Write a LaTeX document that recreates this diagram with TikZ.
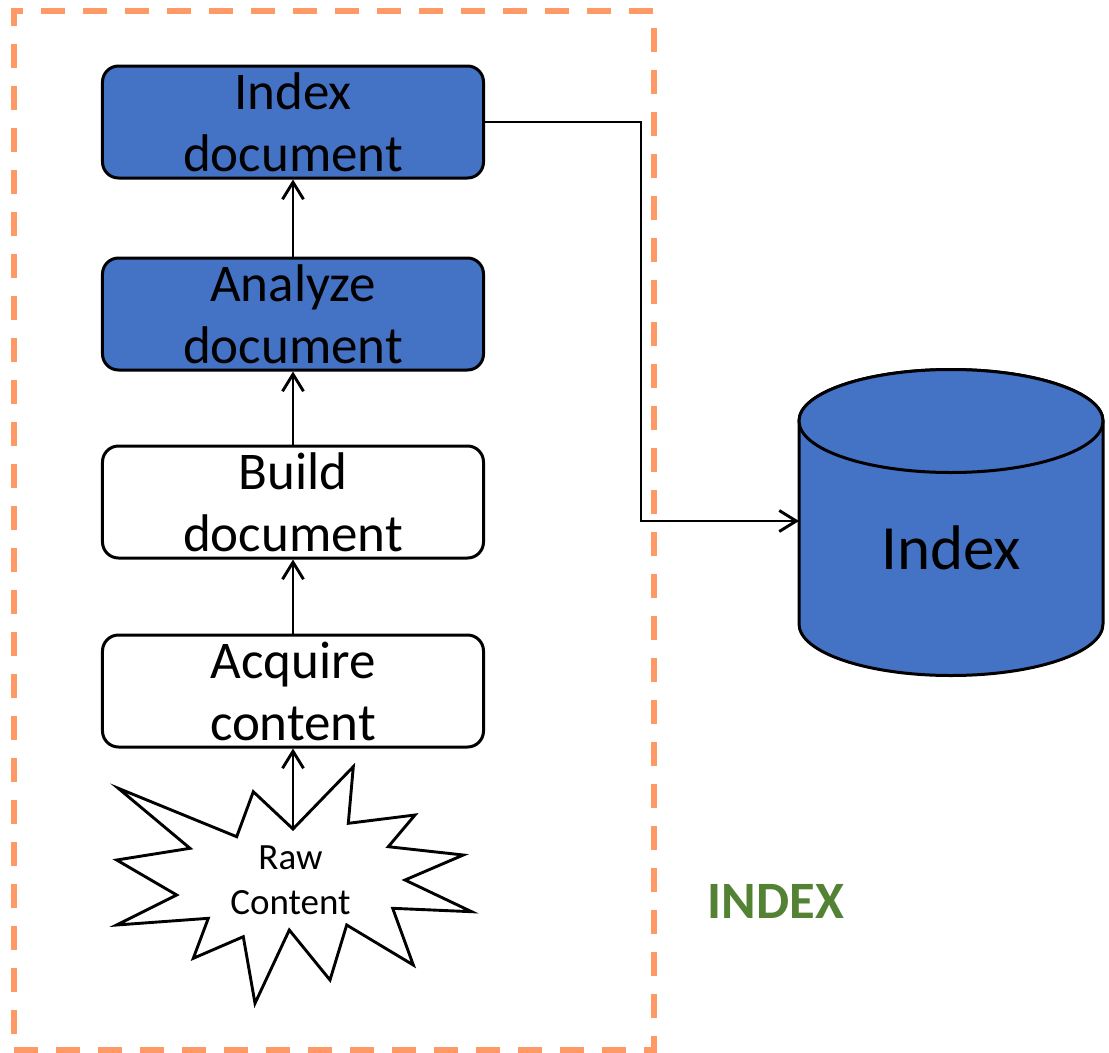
\documentclass[tikz,border=0pt]{standalone}
\usepackage{fontspec}
\setmainfont{Carlito}
\usetikzlibrary{arrows.meta}
\definecolor{boxblue}{HTML}{4472C4}
\definecolor{frameorange}{HTML}{FF9966}
\definecolor{idxgreen}{HTML}{548235}
\tikzset{
  stepbox/.style={draw=black, line width=3bp, rounded corners=16bp,
    minimum width=381bp, minimum height=112bp, align=center, inner sep=0pt,
    font=\fontsize{53bp}{62bp}\selectfont},
  bluebox/.style={stepbox, fill=boxblue},
  whitebox/.style={stepbox, fill=white},
  arr/.style={draw=black, line width=2.9bp,
    -{Straight Barb[length=17bp,width=21bp,line width=2.9bp]}},
  framebox/.style={draw=frameorange, line width=6bp, dash pattern=on 24bp off 18bp,
    minimum width=640bp, minimum height=1039bp, inner sep=0pt},
}
\begin{document}
\begin{tikzpicture}[x=1bp,y=-1bp]
\fill[white] (0,0) rectangle (1109,1053);
\useasboundingbox (0,0) rectangle (1109,1053);

% frame
\node[framebox] (frame) at (334,530.5) {};

% boxes
\node[bluebox] (idx) at (293,122) {Index\\document};
\node[bluebox] (ana) at (293,314) {Analyze\\document};
\node[whitebox] (bld) at (293,502) {Build\\document};
\node[whitebox] (acq) at (293,691) {Acquire\\content};

% starburst
\coordinate (rawtop) at (293,829);
\draw[line width=2.9bp, fill=white]
  (293,829) -- (353.3,766.7) -- (348.3,823.3) -- (415,815) -- (388.3,846.7)
  -- (463.3,855) -- (405,880) -- (471.7,911.7) -- (392.7,908.3) -- (413.3,965)
  -- (346.7,925) -- (330,980) -- (289.3,930) -- (255,1003.3) -- (243.3,936.7)
  -- (193.3,958.3) -- (208.3,918.3) -- (116.7,925) -- (176.7,895) -- (116.7,860)
  -- (190,848.3) -- (118.3,788.3) -- (236.7,836.7) -- (253.3,791.7) -- cycle;
\node[align=center, inner sep=0pt, font=\fontsize{37bp}{45bp}\selectfont] (raw) at (290.5,880.5) {Raw\\Content};

% cylinder
\draw[line width=3bp, fill=boxblue]
  (799,421) -- (799,624) arc[start angle=180, end angle=0, x radius=152, y radius=51.5]
  -- (1103,421) arc[start angle=0, end angle=-180, x radius=152, y radius=51.5] -- cycle;
\draw[line width=3bp, fill=boxblue] (951,421) ellipse[x radius=152, y radius=51.5];
\node[inner sep=0pt, font=\fontsize{63bp}{76bp}\selectfont] (db) at (951,548) {Index};
\coordinate (dbin) at (799,521);
\coordinate (bend) at (641,521);

% connectors
\draw[arr] (rawtop) -- (acq.south);
\draw[arr] (acq.north) -- (bld.south);
\draw[arr] (bld.north) -- (ana.south);
\draw[arr] (ana.north) -- (idx.south);
\draw[arr] (idx.east) -| (bend) -- (dbin);

% label
\node[inner sep=0pt, text=idxgreen, font=\fontsize{52.5bp}{62bp}\selectfont\bfseries] (lbl) at (776,901.5) {INDEX};
\end{tikzpicture}
\end{document}
